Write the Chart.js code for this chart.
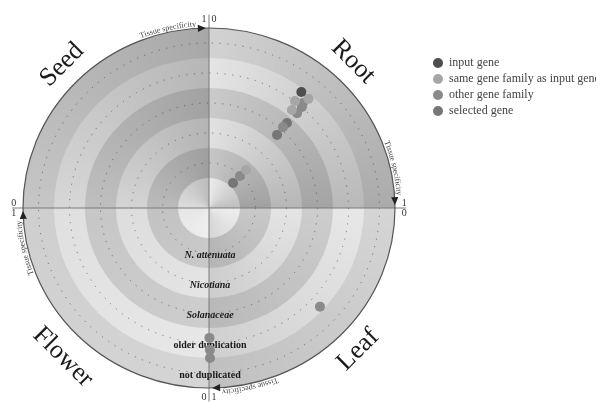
<!DOCTYPE html>
<html><head><meta charset="utf-8">
<script src="https://cdn.jsdelivr.net/npm/chart.js@4"></script>
<style>html,body{margin:0;padding:0;background:#fff}#wrap{width:596px;height:404px;position:relative}</style>
</head><body><div id="wrap"><canvas id="c"></canvas></div>
<script>
// ---- data ----
const tissueNames = ['Root', 'Leaf', 'Flower', 'Seed'];          // clockwise from top
const tissueBaseDeg = [0, 90, 180, 270];
const ringLabels = ['N. attenuata', 'Nicotiana', 'Solanaceae', 'older duplication', 'not duplicated'];
const ringItalic = [true, true, true, false, false];
const groupNames = ['input gene', 'same gene family as input gene', 'other gene family', 'selected gene'];
const groupColors = ['#4e4e4e', '#a6a6a6', '#8a8a8a', '#767676'];
const specTickStart = '0';
const specTickEnd = '1';
const axisTitle = 'Tissue specificity';

const geneTissue = ['Root','Root','Root','Root','Root','Root','Root','Root','Root','Root','Root','Root','Root','Leaf','Leaf','Leaf','Leaf'];
const geneSpec   = [0.418,0.460,0.421,0.454,0.437,0.463,0.466,0.462,0.461,0.467,0.481,0.479,0.477,0.473,0.998,0.996,0.996];
const geneScore  = [4.88, 4.85, 4.52, 4.63, 4.22, 4.51, 4.25, 3.79, 3.60, 3.28, 1.74, 1.46, 1.14, 4.86, 4.33, 4.73, 5.00];
const geneGroup  = [0, 1, 1, 2, 1, 2, 2, 3, 2, 3, 1, 2, 3, 2, 2, 2, 2];

// ---- styling ----
const bandColors = ['#eeeeee', '#c9c9c9', '#e4e4e4', '#cdcdcd', '#e7e7e7', '#d5d5d5'];
const quadLabelPos = {Seed:[-4.74, 4.77, -45], Root:[4.65, 4.87, 45], Flower:[-4.71, -4.97, 45], Leaf:[4.81, -4.73, -45]};

function toXY(t, s, r) {
  const th = (tissueBaseDeg[tissueNames.indexOf(t)] + s * 90) * Math.PI / 180;
  return {x: r * Math.sin(th), y: r * Math.cos(th)};
}

const datasets = groupNames.map((name, g) => ({
  label: name,
  data: geneGroup.map((gg, i) => gg === g ? toXY(geneTissue[i], geneSpec[i], geneScore[i]) : null).filter(p => p),
  backgroundColor: groupColors[g],
  borderWidth: 0,
  pointRadius: 5,
  pointHoverRadius: 5
}));

function geom(chart) {
  const xs = chart.scales.x, ys = chart.scales.y;
  const cx = xs.getPixelForValue(0), cy = ys.getPixelForValue(0);
  const ux = xs.getPixelForValue(1) - cx, uy = cy - ys.getPixelForValue(1);
  return {cx, cy, ux, uy};
}
function pol(G, deg, r) {
  const a = deg * Math.PI / 180;
  return [G.cx + G.ux * r * Math.sin(a), G.cy - G.uy * r * Math.cos(a)];
}

function arcText(ctx, G, text, endDeg, r) {
  const rAvg = (G.ux + G.uy) / 2 * r;
  const w = ctx.measureText(text).width;
  let a = endDeg * Math.PI / 180 - w / rAvg;
  for (const ch of text) {
    const cw = ctx.measureText(ch).width;
    const am = a + (cw / 2) / rAvg;
    const x = G.cx + G.ux * r * Math.sin(am), y = G.cy - G.uy * r * Math.cos(am);
    ctx.save(); ctx.translate(x, y); ctx.rotate(am);
    ctx.textAlign = 'center'; ctx.textBaseline = 'alphabetic';
    ctx.fillText(ch, 0, 0); ctx.restore();
    a += cw / rAvg;
  }
}

const bgPlugin = {
  id: 'bg',
  beforeDatasetsDraw(chart) {
    const ctx = chart.ctx, G = geom(chart);
    ctx.save();
    for (let i = 5; i >= 0; i--) {
      ctx.beginPath(); ctx.ellipse(G.cx, G.cy, G.ux * (i + 1), G.uy * (i + 1), 0, 0, 2 * Math.PI);
      ctx.fillStyle = bandColors[i]; ctx.fill();
    }
    if (ctx.createConicGradient) {
      const g = ctx.createConicGradient(-Math.PI / 2, G.cx, G.cy);
      g.addColorStop(0, 'rgba(0,0,0,0.01)');      g.addColorStop(0.2499, 'rgba(0,0,0,0.2)');
      g.addColorStop(0.2501, 'rgba(0,0,0,0)'); g.addColorStop(0.4999, 'rgba(0,0,0,0.1)');
      g.addColorStop(0.5001, 'rgba(0,0,0,0)'); g.addColorStop(0.7499, 'rgba(0,0,0,0.03)');
      g.addColorStop(0.7501, 'rgba(0,0,0,0.07)'); g.addColorStop(1, 'rgba(0,0,0,0.21)');
      ctx.beginPath(); ctx.ellipse(G.cx, G.cy, G.ux * 6, G.uy * 6, 0, 0, 2 * Math.PI);
      ctx.fillStyle = g; ctx.fill();
    }
    ctx.setLineDash([1.2, 6.5]); ctx.strokeStyle = 'rgba(60,60,60,0.6)'; ctx.lineWidth = 1;
    for (let i = 1; i <= 5; i++) {
      ctx.beginPath(); ctx.ellipse(G.cx, G.cy, G.ux * (i + 0.5), G.uy * (i + 0.5), 0, 0, 2 * Math.PI); ctx.stroke();
    }
    ctx.setLineDash([]);
    // axis lines
    ctx.strokeStyle = '#7a7a7a'; ctx.lineWidth = 1;
    ctx.beginPath();
    ctx.moveTo(G.cx, G.cy - G.uy * 6.45); ctx.lineTo(G.cx, G.cy + G.uy * 6.45);
    ctx.moveTo(G.cx - G.ux * 6.35, G.cy); ctx.lineTo(G.cx + G.ux * 6.35, G.cy);
    ctx.stroke();
    // outer circle
    ctx.strokeStyle = '#555'; ctx.lineWidth = 1.2;
    ctx.beginPath(); ctx.ellipse(G.cx, G.cy, G.ux * 6, G.uy * 6, 0, 0, 2 * Math.PI); ctx.stroke();
    // ring labels
    ctx.fillStyle = '#1a1a1a'; ctx.textAlign = 'center'; ctx.textBaseline = 'middle';
    ringLabels.forEach((t, i) => {
      ctx.font = (ringItalic[i] ? 'italic ' : '') + "bold 10px 'Liberation Serif'";
      ctx.fillText(t, G.cx + 1, G.cy + G.uy * (i + 1.58));
    });
    ctx.restore();
  },
  afterDraw(chart) {
    const ctx = chart.ctx, G = geom(chart);
    ctx.save();
    // quadrant labels
    ctx.fillStyle = '#1a1a1a'; ctx.font = "26px 'Liberation Serif'";
    ctx.textAlign = 'center'; ctx.textBaseline = 'middle';
    tissueNames.forEach(n => {
      const p = quadLabelPos[n];
      ctx.save(); ctx.translate(G.cx + G.ux * p[0], G.cy - G.uy * p[1]); ctx.rotate(p[2] * Math.PI / 180);
      ctx.fillText(n, 0, 0); ctx.restore();
    });
    // arc titles, arrows, ticks
    ctx.font = "8px 'Liberation Serif'"; ctx.fillStyle = '#444';
    tissueBaseDeg.forEach(b => {
      const end = b + 90;
      arcText(ctx, G, axisTitle, end - 4, 6.07);
    });
    ctx.fillStyle = '#222';
    tissueBaseDeg.forEach(b => {
      const end = b + 90;
      const a = (end - 2.2) * Math.PI / 180;
      const [px, py] = pol(G, end - 2.2, 6);
      const tx = Math.cos(a), ty = Math.sin(a), nx = Math.sin(a), ny = -Math.cos(a);
      ctx.beginPath();
      ctx.moveTo(px + tx * 4, py + ty * 4);
      ctx.lineTo(px - tx * 4 + nx * 3.6, py - ty * 4 + ny * 3.6);
      ctx.lineTo(px - tx * 4 - nx * 3.6, py - ty * 4 - ny * 3.6);
      ctx.closePath(); ctx.fill();
    });
    ctx.font = "10px 'Liberation Serif'"; ctx.fillStyle = '#333';
    ctx.textAlign = 'center'; ctx.textBaseline = 'middle';
    tissueBaseDeg.forEach(b => {
      const a = b * Math.PI / 180;
      const [px, py] = pol(G, b, 6.3);
      const tx = Math.cos(a), ty = Math.sin(a);
      ctx.fillText(specTickStart, px + tx * 5, py + ty * 5);
      ctx.fillText(specTickEnd, px - tx * 5, py - ty * 5);
    });
    // legend
    ctx.font = "12px 'Liberation Serif'"; ctx.textAlign = 'left'; ctx.textBaseline = 'middle';
    chart.data.datasets.forEach((d, i) => {
      const y = 63 + i * 16;
      ctx.fillStyle = d.backgroundColor;
      ctx.beginPath(); ctx.arc(438, y, 5, 0, 2 * Math.PI); ctx.fill();
      ctx.fillStyle = '#444'; ctx.fillText(d.label, 449, y);
    });
    ctx.restore();
  }
};

new Chart(document.getElementById('c'), {
  type: 'scatter',
  data: {datasets},
  options: {
    responsive: true, maintainAspectRatio: false, animation: false,
    layout: {padding: {left: 23, right: 201, top: 28, bottom: 16}},
    scales: {
      x: {type: 'linear', min: -6, max: 6, display: false},
      y: {type: 'linear', min: -6, max: 6, display: false}
    },
    plugins: {legend: {display: false}, tooltip: {enabled: false}}
  },
  plugins: [bgPlugin]
});
</script>
</body></html>
